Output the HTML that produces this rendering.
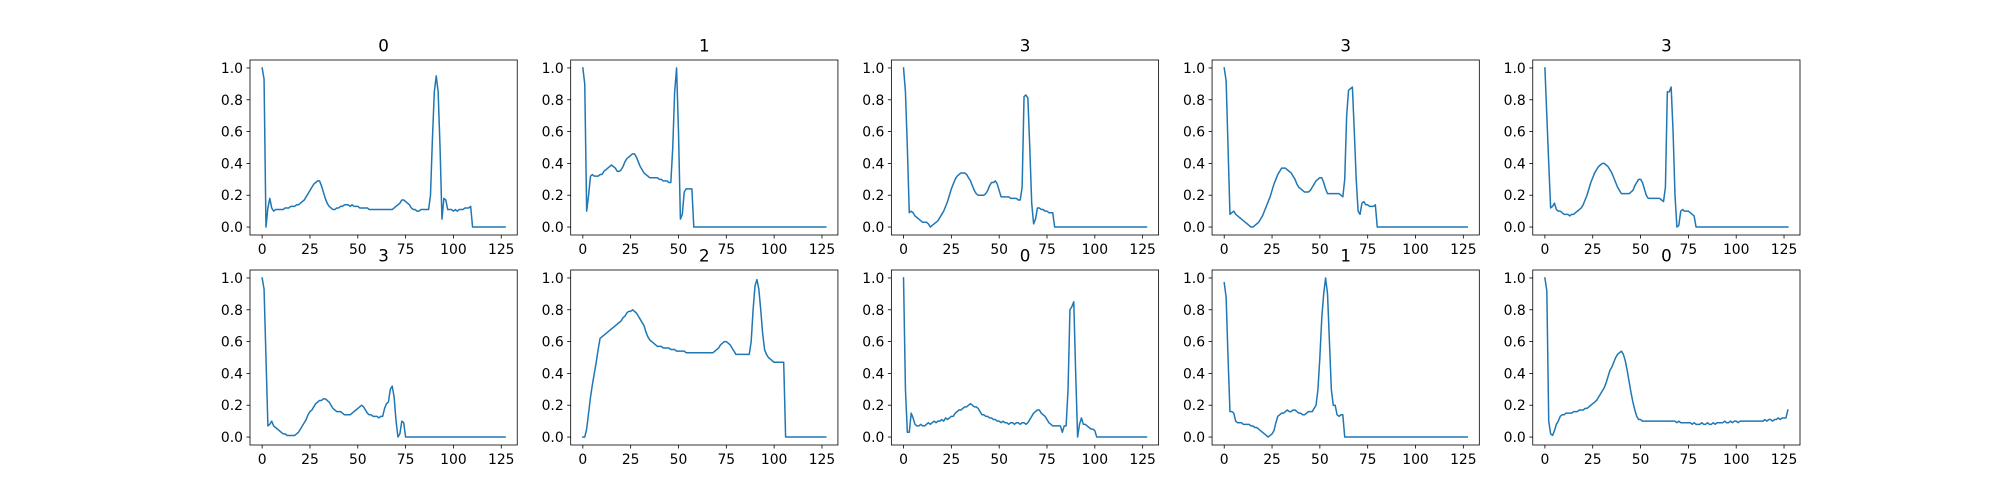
<!DOCTYPE html>
<html><head><meta charset="utf-8"><style>
html,body{margin:0;padding:0;background:#fff;}
svg{display:block;font-family:"DejaVu Sans","Liberation Sans",sans-serif;}
</style></head><body>
<svg id="fig" width="2000" height="500" viewBox="0 0 2000 500" xmlns="http://www.w3.org/2000/svg"></svg>
<script>
const titles = ["0","1","3","3","3","3","2","0","1","0"];
const xTicks = [0,25,50,75,100,125];
const yTicks = [0.0,0.2,0.4,0.6,0.8,1.0];
const yTickLabels = ["0.0","0.2","0.4","0.6","0.8","1.0"];
const s0 = [1.0,0.93,0.0,0.12,0.18,0.12,0.10,0.11,0.11,0.11,
0.11,0.11,0.12,0.12,0.12,0.13,0.13,0.13,0.14,0.14,
0.15,0.16,0.17,0.19,0.21,0.23,0.25,0.27,0.28,0.29,
0.29,0.26,0.22,0.18,0.15,0.13,0.12,0.11,0.11,0.12,
0.12,0.13,0.13,0.14,0.14,0.14,0.13,0.14,0.13,0.13,
0.13,0.12,0.12,0.12,0.12,0.12,0.11,0.11,0.11,0.11,
0.11,0.11,0.11,0.11,0.11,0.11,0.11,0.11,0.11,0.12,
0.13,0.14,0.15,0.17,0.17,0.16,0.15,0.14,0.12,0.11,
0.11,0.10,0.10,0.11,0.11,0.11,0.11,0.11,0.20,0.55,
0.85,0.95,0.85,0.5,0.05,0.18,0.17,0.11,0.11,0.11,
0.10,0.11,0.10,0.11,0.11,0.11,0.12,0.12,0.12,0.13,
0,0,0,0,0,0,0,0,0,0,0,0,0,0,0,0,0,0];
const s1 = [1.0,0.9,0.1,0.2,0.32,0.33,0.32,0.32,0.32,0.33,
0.33,0.35,0.36,0.37,0.38,0.39,0.38,0.37,0.35,0.35,
0.36,0.38,0.41,0.43,0.44,0.45,0.46,0.46,0.44,0.41,
0.38,0.36,0.34,0.33,0.32,0.31,0.31,0.31,0.31,0.31,
0.3,0.3,0.29,0.29,0.29,0.28,0.28,0.5,0.85,1.0,
0.6,0.05,0.08,0.22,0.24,0.24,0.24,0.24,0,0,
0,0,0,0,0,0,0,0,0,0,0,0,0,0,0,0,0,0,0,0,
0,0,0,0,0,0,0,0,0,0,0,0,0,0,0,0,0,0,0,0,
0,0,0,0,0,0,0,0,0,0,0,0,0,0,0,0,0,0,0,0,0,0,0,0,0,0,0,0];
const s2 = [1.0,0.85,0.5,0.09,0.1,0.09,0.07,0.06,0.05,0.04,
0.03,0.03,0.03,0.02,0.0,0.01,0.02,0.03,0.04,0.06,
0.08,0.1,0.13,0.16,0.2,0.24,0.27,0.3,0.32,0.33,
0.34,0.34,0.34,0.33,0.31,0.29,0.26,0.23,0.21,0.2,
0.2,0.2,0.2,0.21,0.23,0.26,0.28,0.28,0.29,0.27,
0.23,0.19,0.19,0.19,0.19,0.19,0.18,0.18,0.18,0.18,
0.17,0.17,0.25,0.82,0.83,0.81,0.5,0.15,0.02,0.05,
0.12,0.12,0.11,0.11,0.1,0.1,0.09,0.09,0.09,0,
0,0,0,0,0,0,0,0,0,0,0,0,0,0,0,0,0,0,0,0,
0,0,0,0,0,0,0,0,0,0,0,0,0,0,0,0,0,0,0,0,0,0,0,0,0,0,0,0];
const s3 = [1.0,0.92,0.5,0.08,0.09,0.1,0.08,0.07,0.06,0.05,
0.04,0.03,0.02,0.01,0.0,0.0,0.01,0.02,0.03,0.05,
0.07,0.1,0.13,0.16,0.19,0.23,0.27,0.3,0.33,0.35,
0.37,0.37,0.37,0.36,0.35,0.34,0.32,0.3,0.27,0.25,
0.24,0.23,0.22,0.22,0.22,0.23,0.25,0.27,0.29,0.3,
0.31,0.31,0.28,0.24,0.21,0.21,0.21,0.21,0.21,0.21,
0.21,0.2,0.19,0.3,0.7,0.86,0.87,0.88,0.6,0.3,
0.1,0.08,0.15,0.16,0.14,0.14,0.13,0.13,0.13,0.14,
0,0,0,0,0,0,0,0,0,0,0,0,0,0,0,0,0,0,0,0,
0,0,0,0,0,0,0,0,0,0,0,0,0,0,0,0,0,0,0,0,0,0,0,0,0,0,0,0];
const s4 = [1.0,0.7,0.4,0.12,0.13,0.15,0.11,0.1,0.1,0.09,
0.08,0.08,0.08,0.07,0.08,0.08,0.09,0.1,0.11,0.12,
0.14,0.17,0.2,0.24,0.28,0.31,0.34,0.36,0.38,0.39,
0.4,0.4,0.39,0.38,0.36,0.34,0.31,0.28,0.25,0.23,
0.21,0.21,0.21,0.21,0.21,0.22,0.23,0.26,0.28,0.3,
0.3,0.28,0.24,0.2,0.18,0.18,0.18,0.18,0.18,0.18,
0.18,0.17,0.16,0.25,0.85,0.85,0.88,0.6,0.2,0.0,
0.01,0.1,0.11,0.1,0.1,0.1,0.09,0.08,0.07,0,
0,0,0,0,0,0,0,0,0,0,0,0,0,0,0,0,0,0,0,0,
0,0,0,0,0,0,0,0,0,0,0,0,0,0,0,0,0,0,0,0,0,0,0,0,0,0,0,0];
const s5 = [1.0,0.93,0.5,0.07,0.08,0.1,0.07,0.06,0.05,0.04,
0.03,0.02,0.02,0.01,0.01,0.01,0.01,0.01,0.02,0.03,
0.05,0.07,0.09,0.11,0.14,0.16,0.17,0.19,0.21,0.22,
0.23,0.23,0.24,0.24,0.23,0.22,0.2,0.18,0.17,0.16,
0.16,0.16,0.15,0.14,0.14,0.14,0.14,0.15,0.16,0.17,
0.18,0.19,0.2,0.19,0.17,0.15,0.14,0.14,0.13,0.13,
0.13,0.12,0.13,0.13,0.18,0.21,0.22,0.3,0.32,0.25,
0.1,0.0,0.02,0.1,0.09,0,0,0,0,0,
0,0,0,0,0,0,0,0,0,0,0,0,0,0,0,0,0,0,0,0,
0,0,0,0,0,0,0,0,0,0,0,0,0,0,0,0,0,0,0,0,0,0,0,0,0,0,0,0];
const s6 = [0.0,0.0,0.05,0.15,0.25,0.33,0.4,0.47,0.55,0.62,
0.63,0.64,0.65,0.66,0.67,0.68,0.69,0.7,0.71,0.72,
0.73,0.75,0.76,0.78,0.79,0.79,0.8,0.79,0.78,0.76,
0.74,0.72,0.7,0.66,0.63,0.61,0.6,0.59,0.58,0.57,
0.57,0.57,0.56,0.56,0.56,0.56,0.55,0.55,0.55,0.54,
0.54,0.54,0.54,0.54,0.53,0.53,0.53,0.53,0.53,0.53,
0.53,0.53,0.53,0.53,0.53,0.53,0.53,0.53,0.53,0.54,
0.55,0.56,0.58,0.59,0.6,0.6,0.59,0.58,0.56,0.54,
0.52,0.52,0.52,0.52,0.52,0.52,0.52,0.52,0.6,0.8,
0.95,0.99,0.93,0.8,0.65,0.55,0.52,0.5,0.49,0.48,
0.47,0.47,0.47,0.47,0.47,0.47,0.0,0,0,0,
0,0,0,0,0,0,0,0,0,0,0,0,0,0,0,0,0,0];
const s7 = [1.0,0.3,0.03,0.03,0.15,0.12,0.08,0.07,0.07,0.08,
0.07,0.07,0.08,0.09,0.08,0.09,0.1,0.09,0.1,0.1,
0.11,0.1,0.12,0.11,0.12,0.13,0.13,0.15,0.16,0.17,
0.17,0.18,0.19,0.19,0.2,0.21,0.2,0.19,0.19,0.18,
0.16,0.14,0.14,0.13,0.13,0.12,0.12,0.11,0.11,0.1,
0.1,0.09,0.1,0.09,0.09,0.08,0.09,0.09,0.08,0.09,
0.09,0.08,0.09,0.09,0.08,0.09,0.11,0.13,0.15,0.16,
0.17,0.17,0.15,0.14,0.13,0.11,0.09,0.08,0.07,0.07,
0.07,0.07,0.07,0.03,0.07,0.07,0.3,0.8,0.82,0.85,
0.4,0.0,0.08,0.12,0.08,0.08,0.07,0.06,0.05,0.05,
0.04,0,0,0,0,0,0,0,0,0,
0,0,0,0,0,0,0,0,0,0,0,0,0,0,0,0,0,0];
const s8 = [0.97,0.88,0.5,0.16,0.16,0.15,0.1,0.09,0.09,0.09,
0.08,0.08,0.08,0.08,0.07,0.07,0.06,0.06,0.05,0.04,
0.03,0.02,0.01,0.0,0.01,0.02,0.04,0.09,0.13,0.14,
0.15,0.15,0.16,0.17,0.16,0.16,0.17,0.17,0.16,0.15,
0.15,0.14,0.14,0.15,0.16,0.16,0.16,0.18,0.2,0.3,
0.5,0.75,0.9,1.0,0.9,0.6,0.3,0.2,0.2,0.14,
0.13,0.14,0.14,0,0,0,0,0,0,0,
0,0,0,0,0,0,0,0,0,0,0,0,0,0,0,0,0,0,0,0,
0,0,0,0,0,0,0,0,0,0,0,0,0,0,0,0,0,0,0,0,
0,0,0,0,0,0,0,0,0,0,0,0,0,0,0,0,0,0];
const s9 = [1.0,0.92,0.1,0.02,0.01,0.04,0.08,0.1,0.13,0.14,
0.14,0.15,0.15,0.15,0.15,0.16,0.16,0.16,0.17,0.17,
0.17,0.18,0.18,0.19,0.2,0.21,0.22,0.23,0.25,0.27,
0.29,0.31,0.34,0.38,0.42,0.44,0.47,0.5,0.52,0.53,
0.54,0.52,0.48,0.42,0.35,0.28,0.22,0.17,0.13,0.11,
0.11,0.1,0.1,0.1,0.1,0.1,0.1,0.1,0.1,0.1,
0.1,0.1,0.1,0.1,0.1,0.1,0.1,0.1,0.1,0.09,
0.1,0.09,0.09,0.09,0.09,0.09,0.09,0.08,0.09,0.08,
0.08,0.08,0.09,0.08,0.08,0.09,0.08,0.08,0.09,0.08,
0.09,0.09,0.09,0.09,0.1,0.09,0.09,0.1,0.09,0.1,
0.1,0.09,0.1,0.1,0.1,0.1,0.1,0.1,0.1,0.1,
0.1,0.1,0.1,0.1,0.1,0.11,0.1,0.11,0.11,0.1,
0.11,0.11,0.12,0.11,0.12,0.12,0.12,0.17];
const seriesList = [s0,s1,s2,s3,s4,s5,s6,s7,s8,s9];
const N_POINTS = 128;

const NS = "http://www.w3.org/2000/svg";
const svg = document.getElementById("fig");
const AX_W = 1550/5.8, AX_H = 175, GAP_X = AX_W*0.2;
const ROW_TOP = [60, 270];
function mk(tag, attrs){const e=document.createElementNS(NS,tag);for(const k in attrs)e.setAttribute(k,attrs[k]);return e;}

seriesList.forEach((data, idx) => {
  const col = idx % 5, row = Math.floor(idx/5);
  const left = 250 + col*(AX_W+GAP_X), top = ROW_TOP[row];
  const n = N_POINTS;
  const xmin = -0.05*(n-1), xmax = (n-1)*1.05;
  const ymin = -0.05, ymax = 1.05;
  const xs = v => left + (v - xmin)/(xmax - xmin)*AX_W;
  const ys = v => top + (ymax - v)/(ymax - ymin)*AX_H;
  const g = mk("g", {});
  
  
  svg.appendChild(g);

  const pts = data.map((v,i)=>xs(i).toFixed(2)+","+ys(v).toFixed(2)).join(" ");
  const line = mk("polyline", {points: pts, fill:"none", stroke:"#1f77b4", "stroke-width":"1.5", "stroke-linejoin":"round", "stroke-linecap":"square"});
  
  
  g.appendChild(line);

  const frame = mk("rect", {x:left, y:top, width:AX_W, height:AX_H, fill:"none", stroke:"#000", "stroke-width":"0.8"});
  
  
  g.appendChild(frame);

  xTicks.forEach(t => {
    const x = xs(t);
    const tk = mk("line", {x1:x, x2:x, y1:top+AX_H, y2:top+AX_H+3.5, stroke:"#000", "stroke-width":"0.8"});
    
    
    g.appendChild(tk);
    const lb = mk("text", {x:x, y:top+AX_H+19, "font-size":"13.9", "text-anchor":"middle", fill:"#000"});
    lb.textContent = String(t);
    
    
    g.appendChild(lb);
  });
  yTicks.forEach((t, j) => {
    const y = ys(t);
    const tk = mk("line", {x1:left-3.5, x2:left, y1:y, y2:y, stroke:"#000", "stroke-width":"0.8"});
    
    
    g.appendChild(tk);
    const lb = mk("text", {x:left-7, y:y+5, "font-size":"13.9", "text-anchor":"end", fill:"#000"});
    lb.textContent = yTickLabels[j];
    
    
    g.appendChild(lb);
  });
  const tt = mk("text", {x:left+AX_W/2, y:top-8.3, "font-size":"16.7", "text-anchor":"middle", fill:"#000"});
  tt.textContent = titles[idx];
  
  
  g.appendChild(tt);
});
</script>
</body></html>
